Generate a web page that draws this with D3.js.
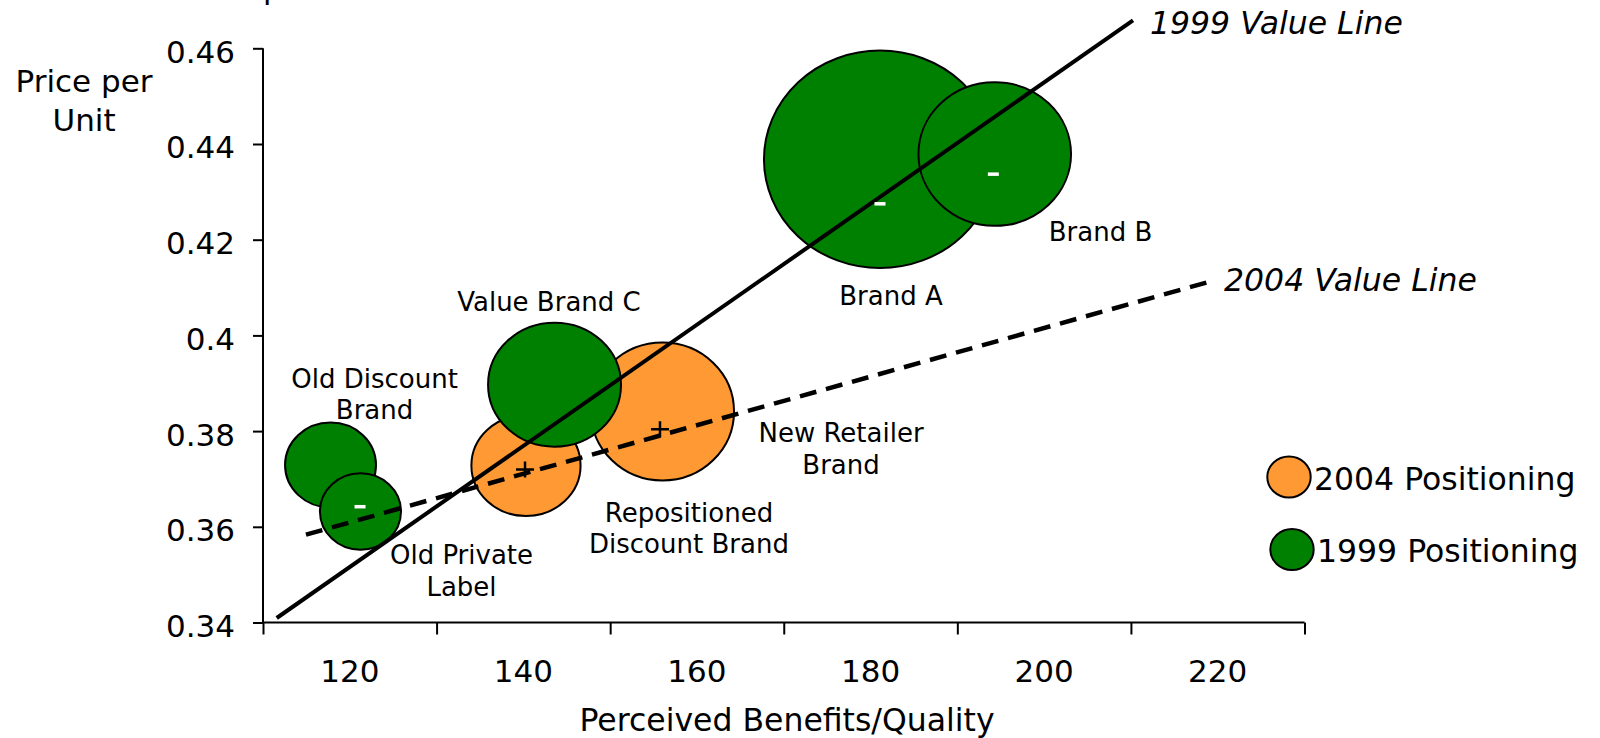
<!DOCTYPE html>
<html lang="en">
<head>
<meta charset="utf-8">
<title>Value Map</title>
<style>
body { margin: 0; background: #fff; }
svg { display: block; font-family: "DejaVu Sans", Verdana, sans-serif; }
</style>
</head>
<body>
<div id="chart"></div>
<script src="https://d3js.org/d3.v7.min.js"></script>
<script>
// ---- data ----
const xTickValues = [110, 130, 150, 170, 190, 210, 230];
const xLabelValues = [120, 140, 160, 180, 200, 220];
const yTickValues = [0.34, 0.36, 0.38, 0.40, 0.42, 0.44, 0.46];
const yTickLabels = ["0.34", "0.36", "0.38", "0.4", "0.42", "0.44", "0.46"];

// bubbles: centre, half width (benefit units), half height (price units)
const bubbleNames = ["Repositioned Discount Brand", "New Retailer Brand", "Old Discount Brand", "Old Private Label", "Value Brand C", "Brand A", "Brand B"];
const bubbleYear  = [2004, 2004, 1999, 1999, 1999, 1999, 1999];
const bubbleX     = [140.30, 156.03, 117.78, 121.23, 143.59, 181.09, 194.31];
const bubbleY     = [0.3728, 0.3841, 0.3729, 0.3632, 0.3897, 0.4368, 0.4379];
const bubbleW     = [6.29, 8.24, 5.24, 4.67, 7.66, 13.37, 8.79];
const bubbleH     = [0.01055, 0.01442, 0.00888, 0.0080, 0.01296, 0.02272, 0.0150];

// data point markers
const markerYear = [2004, 2004, 1999, 1999, 1999];
const markerX    = [140.19, 155.74, 121.18, 181.09, 194.15];
const markerY    = [0.3720, 0.3804, 0.3642, 0.4275, 0.4337];

// brand labels (centre of first line)
const labelLines = [["Repositioned", "Discount Brand"], ["New Retailer", "Brand"], ["Old Discount", "Brand"], ["Old Private", "Label"], ["Value Brand C"], ["Brand A"], ["Brand B"]];
const labelX = [159.08, 176.60, 122.85, 132.87, 142.95, 182.36, 206.50];
const labelY = [0.36299, 0.37960, 0.39103, 0.35411, 0.40698, 0.40823, 0.42167];

// value lines
const lineNames = ["1999 Value Line", "2004 Value Line"];
const lineX1 = [111.58, 114.95];
const lineY1 = [0.34094, 0.35835];
const lineX2 = [210.24, 219.34];
const lineY2 = [0.46583, 0.41137];
const lineLabelX = [212.20, 220.73];
const lineLabelY = [0.46539, 0.41158];

const legendYears = [2004, 1999];
const legendText = ["2004 Positioning", "1999 Positioning"];

const color = d3.scaleOrdinal([2004, 1999], ["#ff9933", "#008000"]);

// ---- layout ----
const width = 1600, height = 738;
const x = d3.scaleLinear().domain([110, 230]).range([263, 1304.5]);
const y = d3.scaleLinear().domain([0.34, 0.46]).range([622.5, 48.3]);

const svg = d3.select("#chart").append("svg")
    .attr("width", width)
    .attr("height", height)
    .attr("viewBox", [0, 0, width, height]);

// cut-off title fragment at the very top
svg.append("text").attr("x", 263).attr("y", -1).attr("font-size", 31).text("p");

// bubbles (2004 under 1999)
const bubbles = d3.range(bubbleNames.length);
svg.append("g")
  .selectAll("ellipse")
  .data(bubbles)
  .join("ellipse")
    .attr("cx", i => x(bubbleX[i]))
    .attr("cy", i => y(bubbleY[i]))
    .attr("rx", i => x(bubbleX[i] + bubbleW[i]) - x(bubbleX[i]))
    .attr("ry", i => y(bubbleY[i]) - y(bubbleY[i] + bubbleH[i]))
    .attr("fill", i => color(bubbleYear[i]))
    .attr("stroke", "#000")
    .attr("stroke-width", 2);

// axes
const yAxis = svg.append("g")
    .attr("transform", `translate(${x(110)},0)`)
    .call(d3.axisLeft(y).tickValues(yTickValues).tickSize(10).tickPadding(18)
        .tickFormat((d, i) => yTickLabels[i]));
yAxis.select(".domain").attr("stroke-width", 2).attr("d", `M0,${y(0.46)}V${y(0.34)}`);
yAxis.selectAll(".tick line").attr("stroke-width", 2);
yAxis.selectAll(".tick text").attr("font-size", 31).attr("fill", "#000")
    .attr("font-family", "DejaVu Sans").attr("dy", "0.45em");

const xAxis = svg.append("g")
    .attr("transform", `translate(0,${y(0.34)})`)
    .call(d3.axisBottom(x).tickValues(xTickValues).tickSize(12).tickFormat(""));
xAxis.select(".domain").attr("stroke-width", 2).attr("d", `M${x(110)},0H${x(230)}`);
xAxis.selectAll(".tick line").attr("stroke-width", 2);

svg.append("g")
  .selectAll("text")
  .data(xLabelValues)
  .join("text")
    .attr("x", d => x(d))
    .attr("y", y(0.34) + 59)
    .attr("text-anchor", "middle")
    .attr("font-size", 31)
    .text(d => d);

svg.append("text")
    .attr("x", 787)
    .attr("y", 731)
    .attr("text-anchor", "middle")
    .attr("font-size", 31.5)
    .text("Perceived Benefits/Quality");

svg.append("text")
    .attr("text-anchor", "middle")
    .attr("font-size", 31)
  .selectAll("tspan")
  .data(["Price per", "Unit"])
  .join("tspan")
    .attr("x", 84)
    .attr("y", (d, i) => 92 + i * 39)
    .text(d => d);

// value lines
svg.append("g")
  .selectAll("line")
  .data(lineNames)
  .join("line")
    .attr("x1", (d, i) => x(lineX1[i]))
    .attr("y1", (d, i) => y(lineY1[i]))
    .attr("x2", (d, i) => x(lineX2[i]))
    .attr("y2", (d, i) => y(lineY2[i]))
    .attr("stroke", "#000")
    .attr("stroke-width", (d, i) => i === 0 ? 4 : 4.5)
    .attr("stroke-dasharray", (d, i) => i === 0 ? null : "17,10");

svg.append("g")
  .selectAll("text")
  .data(lineNames)
  .join("text")
    .attr("x", (d, i) => x(lineLabelX[i]))
    .attr("y", (d, i) => y(lineLabelY[i]))
    .attr("dy", "0.35em")
    .attr("font-size", 31.5)
    .attr("font-style", "italic")
    .text(d => d);

// markers
svg.append("g")
  .selectAll("path")
  .data(d3.range(markerX.length))
  .join("path")
    .attr("transform", i => `translate(${x(markerX[i])},${y(markerY[i])})`)
    .attr("d", i => markerYear[i] === 2004 ? "M-9,0H9M0,-8V8" : "M-5.5,0H5.5")
    .attr("stroke", i => markerYear[i] === 2004 ? "#000" : "#fff")
    .attr("stroke-width", i => markerYear[i] === 2004 ? 2.5 : 3.5);

// brand labels
svg.append("g")
  .selectAll("text")
  .data(d3.range(labelLines.length))
  .join("text")
    .attr("text-anchor", "middle")
    .attr("font-size", 26)
  .selectAll("tspan")
  .data(i => labelLines[i].map((t, k) => ({t, k, i})))
  .join("tspan")
    .attr("x", d => x(labelX[d.i]))
    .attr("y", d => y(labelY[d.i]) + d.k * 31.5)
    .attr("dy", "0.36em")
    .text(d => d.t);

// legend
const legend = svg.append("g")
  .selectAll("g")
  .data(legendYears)
  .join("g")
    .attr("transform", (d, i) => `translate(${1289 + i * 3},${477 + i * 72.5})`);
legend.append("ellipse")
    .attr("rx", 21.7).attr("ry", 20.5)
    .attr("fill", d => color(d))
    .attr("stroke", "#000").attr("stroke-width", 2);
legend.append("text")
    .attr("x", 25)
    .attr("dy", "0.4em")
    .attr("font-size", 31.5)
    .text((d, i) => legendText[i]);
</script>
</body>
</html>
